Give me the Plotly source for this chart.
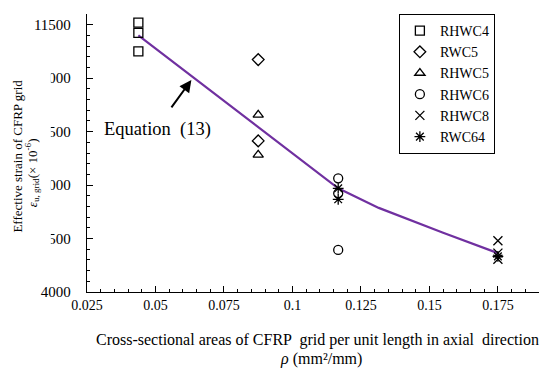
import plotly.graph_objects as go

# ---- data ----
x_rhwc4 = [0.04375, 0.04375, 0.04375]
y_rhwc4 = [11560, 11270, 10750]

x_rwc5 = [0.0875, 0.0875]
y_rwc5 = [10520, 8240]

x_rhwc5 = [0.0875, 0.0875]
y_rhwc5 = [8970, 7850]

x_rhwc6 = [0.1167, 0.1167, 0.1167]
y_rhwc6 = [7190, 6770, 5180]

x_rhwc8 = [0.175, 0.175, 0.175]
y_rhwc8 = [5440, 5090, 4920]

x_rwc64 = [0.1167, 0.1167, 0.175]
y_rwc64 = [6910, 6600, 5000]

x_eq = [0.04375, 0.0875, 0.1167, 0.1315, 0.155, 0.175]
y_eq = [11200, 8620, 6910, 6360, 5660, 5090]

x_ticks = [0.025, 0.05, 0.075, 0.1, 0.125, 0.15, 0.175]
x_ticklabels = ["0.025", "0.05", "0.075", "0.1", "0.125", "0.15", "0.175"]
y_ticks = [4000, 5500, 7000, 8500, 10000, 11500]
y_ticklabels = ["4000", "5500", "7000", "8500", "10000", "11500"]

SERIF = "Times New Roman"

series = [
    ("RHWC4", x_rhwc4, y_rhwc4, "square-open", 9),
    ("RWC5", x_rwc5, y_rwc5, "diamond-open", 9),
    ("RHWC5", x_rhwc5, y_rhwc5, "triangle-up-open", 9),
    ("RHWC6", x_rhwc6, y_rhwc6, "circle-open", 9),
    ("RHWC8", x_rhwc8, y_rhwc8, "x-thin-open", 9),
    ("RWC64", x_rwc64, y_rwc64, "asterisk-open", 9),
]

fig = go.Figure()

fig.add_trace(go.Scatter(
    x=x_eq, y=y_eq, mode="lines", showlegend=False,
    line=dict(color="#7030A0", width=2.2), hoverinfo="skip"))

for name, xs, ys, sym, size in series:
    fig.add_trace(go.Scatter(
        x=xs, y=ys, mode="markers", name=name,
        marker=dict(symbol=sym, size=size, color="black",
                    line=dict(color="black", width=1.3))))

fig.update_layout(
    width=550, height=370,
    margin=dict(l=87, r=11, t=14, b=78),
    paper_bgcolor="white", plot_bgcolor="white",
    font=dict(family=SERIF, size=14, color="black"),
    showlegend=True,
    legend=dict(
        x=0.69, y=1.0, xanchor="left", yanchor="top",
        bordercolor="black", borderwidth=1, bgcolor="white",
        font=dict(family=SERIF, size=14, color="black"),
        itemwidth=30, tracegroupgap=0),
)

fig.update_xaxes(
    range=[0.025, 0.19], showgrid=False, zeroline=False,
    showline=True, linecolor="black", linewidth=1.3,
    ticks="inside", ticklen=6, tickwidth=1.2, tickcolor="black",
    tickvals=x_ticks, ticktext=x_ticklabels,
    tickfont=dict(family=SERIF, size=14),
    ticklabelstandoff=0,
    minor=dict(ticks="inside", ticklen=3, tickwidth=1, tickcolor="black",
               dtick=0.005, tick0=0.025),
)
fig.update_yaxes(
    range=[4000, 11800], showgrid=False, zeroline=False,
    showline=True, linecolor="black", linewidth=1.3,
    ticks="inside", ticklen=6, tickwidth=1.2, tickcolor="black",
    tickvals=y_ticks, ticktext=y_ticklabels,
    tickfont=dict(family=SERIF, size=15),
    ticklabelstandoff=12,
    minor=dict(ticks="inside", ticklen=3, tickwidth=1, tickcolor="black",
               dtick=300, tick0=4000),
)

# white box of the y title covering part of the tick labels (as in reference)
fig.add_shape(type="rect", xref="paper", yref="paper",
              x0=-0.2, x1=-0.080, y0=0.135, y1=0.85,
              fillcolor="white", line=dict(width=0), layer="above")

# y-axis title (two lines)
fig.add_annotation(xref="paper", yref="paper", x=-0.153, y=0.49,
                   xanchor="center", yanchor="middle",
                   text="Effective strain of CFRP grid", textangle=-90,
                   showarrow=False, font=dict(family=SERIF, size=13))
fig.add_annotation(xref="paper", yref="paper", x=-0.12, y=0.43,
                   xanchor="center", yanchor="middle",
                   text="<i>ε</i><sub>u, grid</sub>(× 10<sup>-6</sup>)", textangle=-90,
                   showarrow=False, font=dict(family=SERIF, size=13))

# x-axis title (two lines)
fig.add_annotation(xref="paper", yref="paper", x=0.511, y=-0.173,
                   xanchor="center", yanchor="middle",
                   text="Cross-sectional areas of CFRP  grid per unit length in axial  direction",
                   showarrow=False, font=dict(family=SERIF, size=16))
fig.add_annotation(xref="paper", yref="paper", x=0.517, y=-0.24,
                   xanchor="center", yanchor="middle",
                   text="<i>ρ</i> (mm²/mm)",
                   showarrow=False, font=dict(family=SERIF, size=16))

# equation label with arrow
fig.add_annotation(x=0.0631, y=9950, ax=-21, ay=29, text="",
                   showarrow=True, arrowhead=2, arrowsize=1.2, arrowwidth=2,
                   arrowcolor="black")
fig.add_annotation(x=0.0507, y=8560, text="Equation  (13)", showarrow=False,
                   font=dict(family=SERIF, size=18.5))

fig.write_html("out.html", config={"displayModeBar": False},
               post_script="document.body.style.margin='0px';")
